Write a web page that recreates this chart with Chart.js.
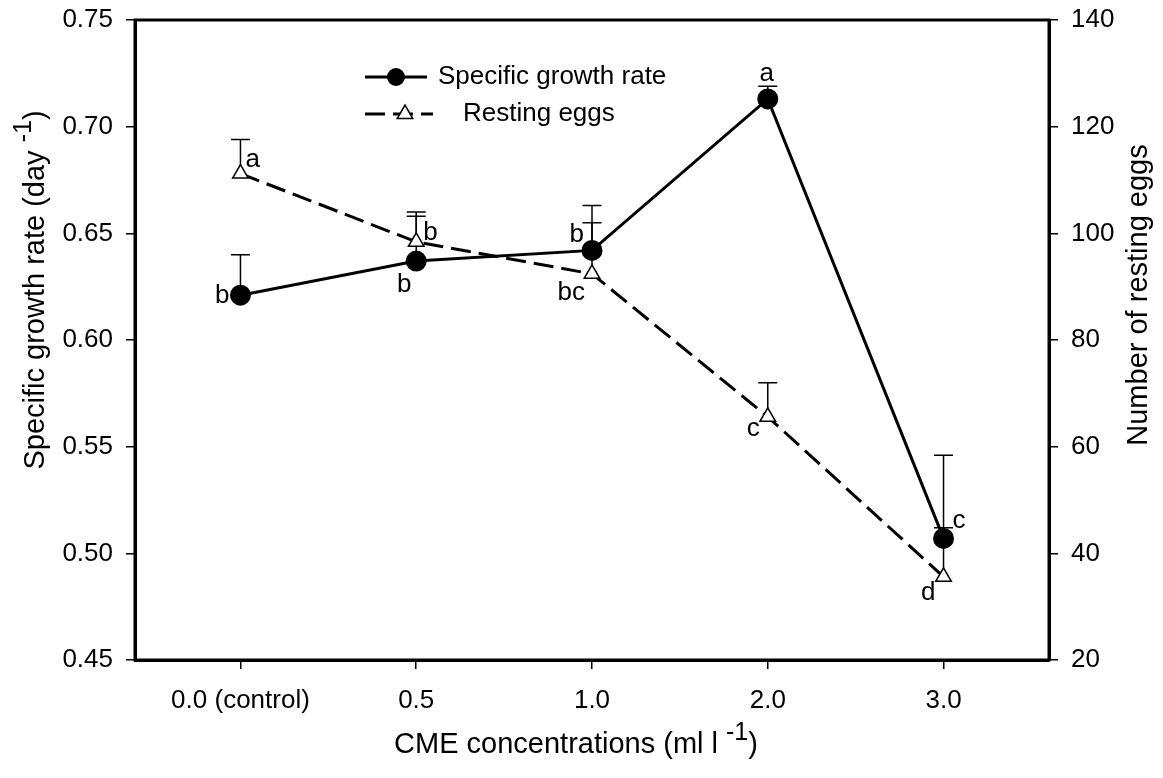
<!DOCTYPE html>
<html><head><meta charset="utf-8">
<script src="https://cdn.jsdelivr.net/npm/chart.js@4.4.0/dist/chart.umd.min.js"></script>
<style>html,body{margin:0;padding:0;background:#fff;}canvas{display:block;}</style>
</head><body>
<canvas id="c" width="1163" height="778"></canvas>
<script>
// ---- data ----
const categories = ['0.0 (control)', '0.5', '1.0', '2.0', '3.0'];
const growthRate = [0.621, 0.637, 0.642, 0.713, 0.507];
const growthErr = [0.019, 0.023, 0.021, 0.006, 0.039];
const restingEggs = [111.2, 98.4, 92.4, 65.6, 35.6];
const eggsErr = [6.4, 4.8, 9.6, 6.4, 9.2];
const growthLetters = ['b', 'b', 'b', 'a', 'c'];
const eggLetters = ['a', 'b', 'bc', 'c', 'd'];
const leftTicks = [0.45, 0.50, 0.55, 0.60, 0.65, 0.70, 0.75];
const rightTicks = [20, 40, 60, 80, 100, 120, 140];

// ---- styling ----
const FONT = '"Liberation Sans", Arial, Helvetica, sans-serif';
const FS = 26;      // ticks, legend, letters
const TFS = 29;     // axis titles
const growthLetterPos = [
  {dx:-11, dy:1, align:'right'}, {dx:-12, dy:24, align:'center'}, {dx:-8, dy:-16, align:'right'},
  {dx:-1, dy:-25, align:'center'}, {dx:9, dy:-18, align:'left'}];
const eggLetterPos = [
  {dx:5, dy:-14, align:'left'}, {dx:7, dy:-9, align:'left'}, {dx:-7, dy:19, align:'right'},
  {dx:-8, dy:12, align:'right'}, {dx:-8, dy:16, align:'right'}];

const idx = categories.map((c, i) => i);
const growthData = idx.map(i => ({x: i, y: growthRate[i]}));
const eggsData = idx.map(i => ({x: i, y: restingEggs[i]}));

function drawSupText(ctx, parts, x, y, rot) {
  ctx.save();
  ctx.translate(x, y);
  ctx.rotate(rot);
  ctx.fillStyle = '#000';
  ctx.textBaseline = 'alphabetic';
  ctx.textAlign = 'left';
  const fontOf = p => (p.sup ? 25 : TFS) + 'px ' + FONT;
  let total = 0;
  parts.forEach(p => { ctx.font = fontOf(p); total += ctx.measureText(p.t).width; });
  let cx = -total / 2;
  parts.forEach(p => {
    ctx.font = fontOf(p);
    ctx.fillText(p.t, cx, p.sup ? -13 : 0);
    cx += ctx.measureText(p.t).width;
  });
  ctx.restore();
}

const extras = {
  id: 'extras',
  beforeDatasetsDraw(chart) {
    const ctx = chart.ctx, xs = chart.scales.x, yl = chart.scales.y, yr = chart.scales.y2;
    ctx.save();
    ctx.strokeStyle = '#000';
    ctx.lineWidth = 1.5;
    const bar = (px, y0, y1) => {
      ctx.beginPath();
      ctx.moveTo(px, y0); ctx.lineTo(px, y1);
      ctx.moveTo(px - 9.5, y1); ctx.lineTo(px + 9.5, y1);
      ctx.stroke();
    };
    idx.forEach(i => {
      const px = xs.getPixelForValue(i);
      bar(px, yl.getPixelForValue(growthRate[i]), yl.getPixelForValue(growthRate[i] + growthErr[i]));
      bar(px, yr.getPixelForValue(restingEggs[i]), yr.getPixelForValue(restingEggs[i] + eggsErr[i]));
    });
    ctx.restore();
  },
  afterDraw(chart) {
    const ctx = chart.ctx, a = chart.chartArea, xs = chart.scales.x, yl = chart.scales.y, yr = chart.scales.y2;
    ctx.save();
    ctx.strokeStyle = '#000';
    ctx.lineWidth = 3;
    ctx.strokeRect(a.left, a.top, a.right - a.left, a.bottom - a.top);
    ctx.font = FS + 'px ' + FONT;
    ctx.fillStyle = '#000';
    ctx.textBaseline = 'middle';
    idx.forEach(i => {
      const px = xs.getPixelForValue(i);
      let p = growthLetterPos[i];
      ctx.textAlign = p.align;
      ctx.fillText(growthLetters[i], px + p.dx, yl.getPixelForValue(growthRate[i]) + p.dy);
      p = eggLetterPos[i];
      ctx.textAlign = p.align;
      ctx.fillText(eggLetters[i], px + p.dx, yr.getPixelForValue(restingEggs[i]) + p.dy);
    });
    // legend
    const lx0 = 365, ly1 = 77, ly2 = 114;
    ctx.lineWidth = 3;
    ctx.beginPath(); ctx.moveTo(lx0, ly1); ctx.lineTo(lx0 + 62, ly1); ctx.stroke();
    ctx.beginPath(); ctx.arc(lx0 + 31, ly1, 9, 0, Math.PI * 2); ctx.fill();
    ctx.setLineDash([20, 8]);
    ctx.beginPath(); ctx.moveTo(lx0, ly2); ctx.lineTo(lx0 + 68, ly2); ctx.stroke();
    ctx.setLineDash([]);
    const tr = 9, tx = lx0 + 40;
    ctx.beginPath();
    ctx.moveTo(tx, ly2 - tr);
    ctx.lineTo(tx + tr * Math.sin(2 * Math.PI / 3), ly2 - tr * Math.cos(2 * Math.PI / 3));
    ctx.lineTo(tx + tr * Math.sin(4 * Math.PI / 3), ly2 - tr * Math.cos(4 * Math.PI / 3));
    ctx.closePath();
    ctx.fillStyle = '#fff'; ctx.fill();
    ctx.lineWidth = 1.5; ctx.stroke();
    ctx.fillStyle = '#000';
    ctx.textAlign = 'left';
    ctx.fillText('Specific growth rate', 438, ly1);
    ctx.fillText('Resting eggs', 463, ly2);
    ctx.restore();
    drawSupText(ctx, [{t:'Specific growth rate (day '}, {t:'-1', sup:true}, {t:')'}], 44, 290, -Math.PI / 2);
    drawSupText(ctx, [{t:'Number of resting eggs'}], 1147, 295, -Math.PI / 2);
    drawSupText(ctx, [{t:'CME concentrations (ml l '}, {t:'-1', sup:true}, {t:')'}], 576, 753, 0);
  }
};

const tickFont = {family: FONT, size: FS};
const gridOpts = {drawOnChartArea: false, drawTicks: true, tickLength: 9, color: '#000', lineWidth: 1.5};
const borderOpts = {display: true, color: '#000', width: 3};
const noPad = s => { s.paddingTop = 0; s.paddingBottom = 0; s.paddingLeft = 0; s.paddingRight = 0; };
new Chart(document.getElementById('c'), {
  type: 'line',
  data: {
    datasets: [
      {label: 'Specific growth rate', data: growthData, yAxisID: 'y', borderColor: '#000', borderWidth: 3,
       pointStyle: 'circle', pointRadius: 9, pointBackgroundColor: '#000', pointBorderColor: '#000', tension: 0},
      {label: 'Resting eggs', data: eggsData, yAxisID: 'y2', borderColor: '#000', borderWidth: 3, borderDash: [20, 8],
       pointStyle: 'triangle', pointRadius: 9, pointBackgroundColor: '#fff', pointBorderColor: '#000', pointBorderWidth: 1.5, tension: 0}
    ]
  },
  options: {
    responsive: false, animation: false, devicePixelRatio: 1,
    layout: {padding: {top: 20, left: 0, right: 0, bottom: 0}},
    plugins: {legend: {display: false}, tooltip: {enabled: false}},
    scales: {
      x: {
        type: 'linear', position: 'bottom', min: -0.6, max: 4.6,
        afterBuildTicks: s => { s.ticks = idx.map(v => ({value: v})); },
        afterFit: s => { s.height = 118; noPad(s); },
        ticks: {callback: v => categories[v], font: tickFont, color: '#000', padding: 16, maxRotation: 0, autoSkip: false},
        grid: gridOpts, border: borderOpts
      },
      y: {
        type: 'linear', position: 'left', min: 0.45, max: 0.75,
        afterBuildTicks: s => { s.ticks = leftTicks.map(v => ({value: v})); },
        afterFit: s => { s.width = 135; noPad(s); },
        ticks: {callback: v => v.toFixed(2), font: tickFont, color: '#000', padding: 13},
        grid: gridOpts, border: borderOpts
      },
      y2: {
        type: 'linear', position: 'right', min: 20, max: 140,
        afterBuildTicks: s => { s.ticks = rightTicks.map(v => ({value: v})); },
        afterFit: s => { s.width = 114; noPad(s); },
        ticks: {callback: v => String(v), font: tickFont, color: '#000', padding: 13},
        grid: gridOpts, border: borderOpts
      }
    }
  },
  plugins: [extras]
});
</script>
</body></html>
